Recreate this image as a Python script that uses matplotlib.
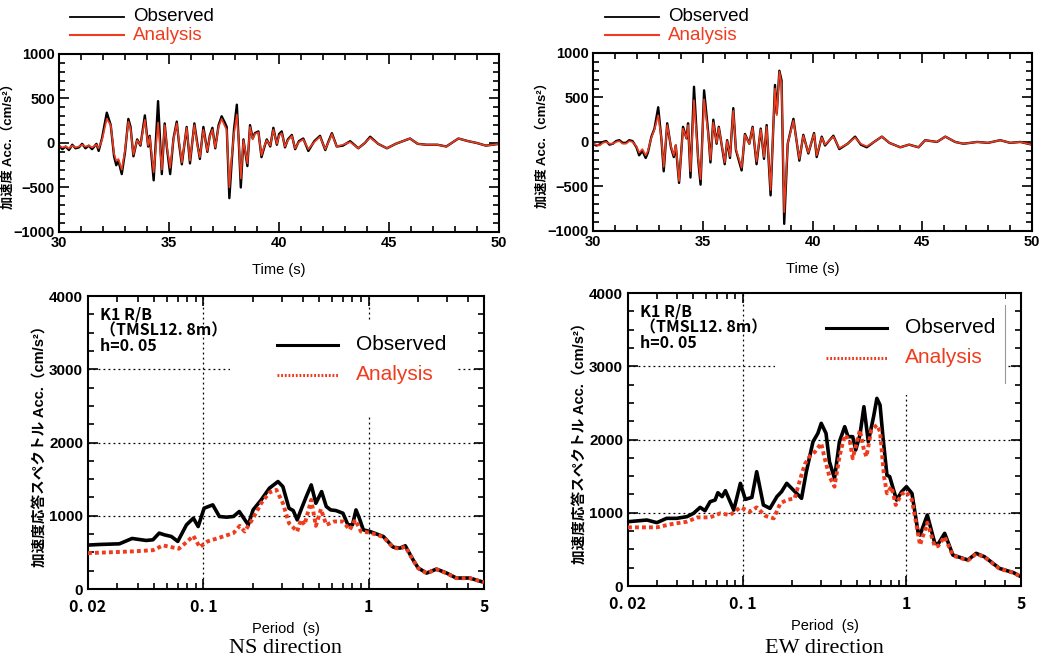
import matplotlib
matplotlib.use("Agg")
import matplotlib.pyplot as plt
from matplotlib.patches import Rectangle
from matplotlib.ticker import MultipleLocator, FixedLocator, LogLocator, NullFormatter

plt.rcParams['font.family'] = ['Liberation Sans', 'Noto Sans CJK JP', 'DejaVu Sans']

RED = "#f03c1e"

# ---------- TIME HISTORY DATA ----------
ns_t = [30.0, 30.15, 30.3, 30.45, 30.6, 30.75, 30.9, 31.05, 31.2, 31.35, 31.5, 31.7, 31.8, 31.95,
        32.17, 32.35, 32.5, 32.6, 32.7, 32.85, 33.0, 33.15, 33.25, 33.38, 33.55, 33.7, 33.9,
        34.05, 34.12, 34.3, 34.5, 34.67, 34.8, 34.9, 35.05, 35.2, 35.35, 35.45, 35.58, 35.8,
        35.95, 36.15, 36.28, 36.4, 36.56, 36.74, 36.85, 36.97, 37.1, 37.25, 37.39, 37.55,
        37.62, 37.74, 37.85, 37.95, 38.08, 38.18, 38.26, 38.38, 38.56, 38.68, 38.8, 38.9,
        39.06, 39.2, 39.35, 39.44, 39.6, 39.74, 39.9, 40.0, 40.12, 40.27, 40.4, 40.58, 40.73,
        40.9, 41.1, 41.33, 41.6, 41.86, 42.1, 42.25, 42.4, 42.62, 42.9, 43.23, 43.6, 43.9,
        44.14, 44.5, 44.9, 45.3, 45.95, 46.3, 46.7, 47.2, 47.6, 48.15, 48.6, 48.98, 49.4, 50.0]
ns_obs = [-30, -70, -40, -80, -20, -60, -50, -10, -60, -30, -70, -10, -90, 50,
          340, 200, -150, -250, -200, -350, -100, 270, 180, -150, 40, -30, 310,
          -40, 80, -420, 470, -350, 220, -50, -350, 50, 240, 0, -240, 180,
          -230, 220, 0, -180, 180, -100, 80, 170, -60, 200, 300, 220,
          180, -620, -200, 150, 430, -50, -500, 40, -260, 200, 50, 110,
          130, -160, -30, 40, -40, 170, -20, 100, 130, -50, 40, 90, -70,
          20, 50, -90, 20, 80, -80, 20, 110, -40, -30, 20, -60, 0,
          70, -10, -60, -10, 50, -10, -20, -20, -40, 50, 20, 0, -30, -10]
ns_ana = [-30, -50, -40, -60, -30, -50, -40, -20, -40, -30, -50, -20, -60, 30,
          270, 200, -120, -200, -180, -300, -80, 240, 160, -130, 30, -20, 260,
          -30, 70, -330, 230, -300, 200, -40, -280, 40, 220, 20, -220, 170,
          -200, 200, -20, -160, 150, -90, 70, 150, -50, 180, 270, 180,
          150, -500, -150, 100, 320, -30, -400, 30, -230, 180, 40, 100,
          120, -140, -20, 30, -30, 150, -10, 80, 110, -40, 30, 80, -60,
          10, 40, -70, 10, 70, -70, 10, 100, -40, -20, 10, -60, 0,
          60, -10, -60, -10, 50, -10, -20, -20, -40, 50, 20, 0, -30, -10]

ew_t = [30.0, 30.15, 30.3, 30.45, 30.6, 30.75, 30.9, 31.05, 31.2, 31.35, 31.5, 31.65, 31.8,
        31.98, 32.1, 32.25, 32.4, 32.5, 32.66, 32.8, 32.97, 33.12, 33.22, 33.38, 33.55, 33.68,
        33.77, 33.92, 34.1, 34.26, 34.33, 34.44, 34.6, 34.79, 34.9, 35.06, 35.25, 35.35, 35.48,
        35.63, 35.73, 36.0, 36.11, 36.24, 36.39, 36.51, 36.77, 36.92, 37.12, 37.27, 37.45,
        37.64, 37.79, 37.91, 38.09, 38.29, 38.37, 38.49, 38.59, 38.71, 38.87, 38.97, 39.13,
        39.4, 39.58, 39.81, 40.07, 40.19, 40.42, 40.57, 40.95, 41.22, 41.6, 41.94, 42.2, 42.47,
        42.8, 43.16, 43.5, 44.0, 44.4, 44.83, 45.13, 45.67, 46.05, 46.5, 46.88, 47.5, 48.0,
        48.55, 49.0, 49.47, 50.0]
ew_obs = [-20, -40, -30, 0, 10, -30, -20, 10, 20, -10, -10, 20, 10,
          -60, -150, -100, -180, -120, 60, 150, 390, 20, -330, 210, -60, -170,
          -40, -460, 170, 40, 210, -400, 620, -200, -480, 580, 100, -230, 250,
          -20, 170, -250, 20, -180, 380, -90, -320, 90, -20, 170, -250,
          150, -190, 190, -600, 640, 320, 800, 690, -920, -20, 90, 260,
          -210, 80, -130, 100, -170, 60, -40, 70, -80, -20, 60, -30, -60,
          0, 60, -10, -60, -30, -60, 20, 0, 60, 0, -20, 0, -10,
          20, -10, 0, -30]
ew_ana = [-20, -30, -40, -10, 0, -20, -20, 0, 10, -20, -20, 10, 0,
          -50, -120, -80, -150, -100, 50, 140, 300, 30, -280, 190, -50, -150,
          -30, -440, 150, 40, 190, -330, 470, -180, -420, 480, 80, -200, 220,
          -10, 160, -230, 10, -160, 350, -80, -290, 80, -20, 160, -220,
          140, -170, 170, -540, 600, 300, 790, 650, -790, -20, 80, 240,
          -190, 70, -120, 90, -150, 50, -30, 60, -70, -20, 50, -20, -50,
          0, 60, -10, -60, -30, -60, 20, 0, 60, 0, -20, 0, -10,
          20, -10, 0, -30]

# ---------- RESPONSE SPECTRA DATA ----------
ns_T_obs = [0.02, 0.0235, 0.031, 0.037, 0.045, 0.0495, 0.054, 0.058, 0.064, 0.070, 0.079, 0.087,
            0.093, 0.101, 0.114, 0.125, 0.138, 0.152, 0.165, 0.187, 0.200, 0.224, 0.251, 0.283,
            0.303, 0.33, 0.35, 0.37, 0.39, 0.42, 0.45, 0.48, 0.52, 0.555, 0.59, 0.635, 0.70,
            0.75, 0.80, 0.84, 0.88, 0.93, 1.02, 1.23, 1.41, 1.55, 1.67, 1.86, 2.0, 2.25, 2.58,
            2.97, 3.4, 4.1, 5.0]
ns_sa_obs = [600, 608, 617, 690, 663, 672, 763, 740, 717, 650, 876, 967,
             853, 1103, 1149, 990, 981, 990, 1058, 876, 1080, 1217, 1376, 1467,
             1398, 1103, 1071, 944, 1080, 1262, 1421, 1171, 1330, 1126, 1080, 1071, 1035,
             876, 876, 1080, 967, 808, 785, 717, 572, 558, 590, 400, 286, 218, 272,
             218, 150, 150, 91]
ns_T_ana = [0.02, 0.037, 0.0495, 0.057, 0.071, 0.080, 0.087, 0.095, 0.106, 0.128, 0.152, 0.166,
            0.178, 0.200, 0.224, 0.251, 0.277, 0.303, 0.33, 0.37, 0.39, 0.41, 0.45, 0.48, 0.515,
            0.555, 0.62, 0.70, 0.77, 0.83, 0.90, 1.02, 1.23, 1.41, 1.55, 1.67, 1.86, 2.0, 2.25,
            2.58, 2.97, 3.4, 4.1, 5.0]
ns_sa_ana = [490, 513, 530, 595, 550, 650, 726, 572, 650, 708, 763, 862,
             785, 967, 1171, 1317, 1353, 1171, 899, 785, 944, 876, 1217, 862, 1090,
             876, 922, 922, 808, 944, 785, 770, 710, 565, 550, 580, 395, 282, 215,
             268, 215, 148, 148, 90]

ew_T_obs = [0.02, 0.0261, 0.030, 0.0344, 0.0396, 0.0458, 0.0502, 0.0551, 0.059, 0.0634, 0.068,
            0.0707, 0.075, 0.0786, 0.0884, 0.097, 0.104, 0.114, 0.122, 0.134, 0.147, 0.162,
            0.173, 0.186, 0.204, 0.229, 0.245, 0.269, 0.288, 0.302, 0.323, 0.339, 0.364, 0.39,
            0.42, 0.44, 0.47, 0.49, 0.52, 0.55, 0.585, 0.63, 0.66, 0.69, 0.72, 0.76, 0.79,
            0.87, 0.935, 1.0, 1.08, 1.18, 1.21, 1.34, 1.49, 1.56, 1.71, 1.92, 2.37, 2.66,
            2.99, 3.69, 4.5, 5.0]
ew_sa_obs = [878, 901, 865, 924, 924, 947, 992, 1074, 1028, 1151, 1174,
             1274, 1220, 1301, 1037, 1402, 1183, 1210, 1561, 1106, 1060, 1220,
             1288, 1402, 1311, 1197, 1561, 1970, 2084, 2221, 2084, 1697, 1470, 1970,
             2175, 2039, 2039, 1857, 2061, 2448, 1970, 2312, 2562, 2471, 2016, 1515, 1493,
             1174, 1288, 1356, 1265, 719, 696, 969, 582, 573, 719, 423, 355, 446,
             400, 241, 182, 127]
ew_T_ana = [0.02, 0.030, 0.037, 0.0458, 0.053, 0.0634, 0.073, 0.084, 0.097, 0.111, 0.122,
            0.138, 0.155, 0.170, 0.186, 0.208, 0.227, 0.24, 0.256, 0.277, 0.302, 0.317, 0.339,
            0.364, 0.39, 0.42, 0.45, 0.47, 0.49, 0.52, 0.55, 0.57, 0.61, 0.66, 0.69, 0.73, 0.76,
            0.81, 0.86, 0.935, 1.0, 1.08, 1.21, 1.34, 1.49, 1.56, 1.71, 1.92, 2.37, 2.66, 2.99,
            3.69, 4.5, 5.0]
ew_sa_ana = [801, 801, 846, 878, 937, 937, 992, 969, 1074, 1015, 1074,
             956, 924, 1129, 1174, 1197, 1493, 1665, 1766, 1834, 1948, 1743, 1493,
             1356, 1766, 2061, 1993, 1743, 1902, 2130, 1857, 1766, 2130, 2198, 2107, 1493, 1265,
             1356, 1106, 1256, 1288, 1174, 560, 865, 537, 546, 673, 415, 350, 440, 395,
             238, 180, 125]

period_ticks = [0.02, 0.1, 1, 5]
period_labels = ["0. 02", "0. 1", "1", "5"]

fig = plt.figure(figsize=(10.47, 6.66), dpi=100)


def style_ticks(ax):
    ax.tick_params(which="both", direction="in", top=True, right=True, width=1.2)
    ax.tick_params(which="major", length=7)
    ax.tick_params(which="minor", length=4)
    for s in ax.spines.values():
        s.set_linewidth(1.5)


# ---------- TIME HISTORIES ----------
def time_panel(rect, t, obs, ana, leg_x):
    ax = fig.add_axes(rect)
    ax.plot(t, obs, color="black", lw=1.7)
    ax.plot(t, ana, color=RED, lw=1.2)
    ax.set_xlim(30, 50)
    ax.set_ylim(-1000, 1000)
    ax.xaxis.set_major_locator(MultipleLocator(5))
    ax.xaxis.set_minor_locator(MultipleLocator(1))
    ax.yaxis.set_minor_locator(MultipleLocator(100))
    style_ticks(ax)
    ax.tick_params(labelsize=10.5, pad=3)
    for lb in ax.get_xticklabels():
        lb.set_fontweight("bold")
    ax.set_yticks([-1000, -500, 0, 500, 1000])
    ax.set_yticklabels(["\u22121000", "\u2212500", "0", "500", "1000"], fontweight="bold")
    ax.set_xlabel("Time (s)", fontsize=10.5, labelpad=9)
    ax.set_ylabel("加速度 Acc.（cm/s²）", fontsize=9.5, fontweight="bold", labelpad=-1)
    # legend drawn above the axes
    x0 = leg_x
    fig.lines.append(plt.Line2D([x0, x0 + 0.051], [0.975, 0.975], color="black", lw=1.3,
                                transform=fig.transFigure))
    fig.lines.append(plt.Line2D([x0, x0 + 0.051], [0.947, 0.947], color=RED, lw=1.5,
                                transform=fig.transFigure))
    fig.text(x0 + 0.060, 0.975, "Observed", fontsize=13.5, va="center")
    fig.text(x0 + 0.060, 0.946, "Analysis", fontsize=13.5, va="center", color=RED)
    return ax


time_panel([0.0564, 0.6517, 0.4203, 0.2673], ns_t, ns_obs, ns_ana, 0.067)
time_panel([0.5664, 0.6532, 0.4193, 0.2673], ew_t, ew_obs, ew_ana, 0.578)


# ---------- RESPONSE SPECTRA ----------
def spec_panel(rect, T_o, sa_o, T_a, sa_a, box, lx, leg_y, title, edge=False):
    ax = fig.add_axes(rect)
    ax.set_xscale("log")
    ax.set_xlim(0.02, 5)
    ax.set_ylim(0, 4000)
    grid = dict(color="black", lw=0.9, ls=(0, (1.5, 2.5)), zorder=1)
    for y in [1000, 2000, 3000]:
        ax.axhline(y, **grid)
    for x in [0.1, 1]:
        ax.axvline(x, **grid)
    # white legend area hides the grid behind it
    ax.add_patch(Rectangle((box[0], box[1]), box[2], box[3], transform=ax.transAxes,
                           facecolor="white", edgecolor="none", zorder=2))
    if edge:
        ax.plot([box[0] + box[2]] * 2, [box[1] + 0.04, 0.96], transform=ax.transAxes,
                color="#999999", lw=0.8, zorder=3)
    ax.plot(T_o, sa_o, color="black", lw=2.6, zorder=4)
    ax.plot(T_a, sa_a, color=RED, lw=2.8, ls=(0, (1, 0.8)), zorder=5)
    ax.xaxis.set_major_locator(FixedLocator(period_ticks))
    ax.xaxis.set_minor_locator(LogLocator(base=10, subs=range(2, 10)))
    ax.xaxis.set_minor_formatter(NullFormatter())
    ax.set_xticklabels(period_labels, family=["Noto Sans CJK JP"], fontsize=11.5, fontweight="bold")
    ax.yaxis.set_major_locator(MultipleLocator(1000))
    ax.yaxis.set_minor_locator(MultipleLocator(250))
    style_ticks(ax)
    ax.tick_params(axis="x", pad=7)
    ax.tick_params(axis="y", labelsize=11)
    for lb in ax.get_yticklabels():
        lb.set_fontweight("bold")
    ax.set_xlabel("Period  (s)", fontsize=10.5, labelpad=5)
    ax.set_ylabel("加速度応答スペクトル Acc.（cm/s²）", fontsize=10.5, fontweight="bold", labelpad=1)
    ax.text(0.03, 0.965, "K1 R/B\n（TMSL12. 8m）\nh=0. 05", transform=ax.transAxes,
            family=["Noto Sans CJK JP"], fontsize=11.5, fontweight="bold", va="top",
            linespacing=1.0, zorder=6)
    ax.plot([lx, lx + 0.155], [leg_y, leg_y], transform=ax.transAxes, color="black", lw=2.2, zorder=6)
    ax.plot([lx, lx + 0.155], [leg_y - 0.102, leg_y - 0.102], transform=ax.transAxes,
            color=RED, lw=2.2, ls=(0, (0.6, 0.6)), zorder=6)
    ax.text(lx + 0.20, leg_y, "Observed", transform=ax.transAxes, fontsize=15, va="center", zorder=6)
    ax.text(lx + 0.20, leg_y - 0.102, "Analysis", transform=ax.transAxes, fontsize=15, va="center",
            color=RED, zorder=6)
    fig.text(rect[0] + rect[2] / 2, 0.027, title, family=["Liberation Serif"], fontsize=16,
             ha="center", va="center")
    return ax


spec_panel([0.0840, 0.1156, 0.3782, 0.4399], ns_T_obs, ns_sa_obs, ns_T_ana, ns_sa_ana,
           (0.358, 0.587, 0.574, 0.325), 0.477, 0.833, "NS direction")
spec_panel([0.5998, 0.1201, 0.3754, 0.4399], ew_T_obs, ew_sa_obs, ew_T_ana, ew_sa_ana,
           (0.374, 0.652, 0.586, 0.348), 0.504, 0.881, "EW direction", edge=True)

fig.savefig("out.png", dpi=100)
